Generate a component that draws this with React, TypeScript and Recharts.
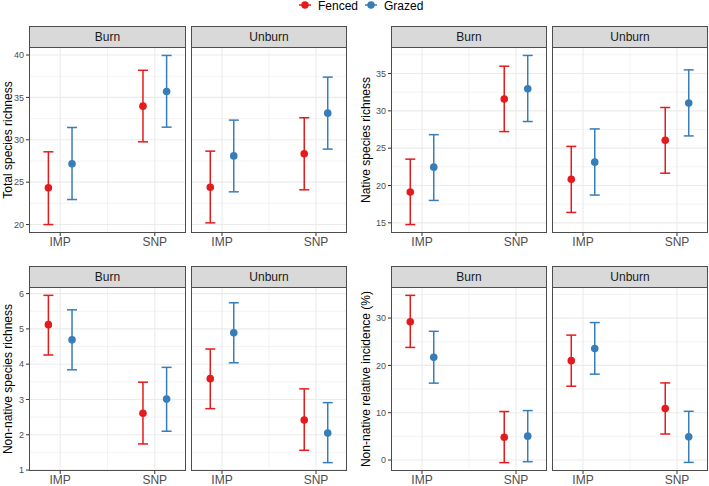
import { ScatterChart, Scatter, XAxis, YAxis, CartesianGrid, ErrorBar } from "recharts";

const sites = ["IMP", "SNP"];
const treatments = ["Fenced", "Grazed"];
const fires = ["Burn", "Unburn"];
const colors = ["#E41A1C", "#377EB8"];

// values are indexed [fire][treatment][site]
const totalMean = [
  [[24.33, 33.97], [27.17, 35.7]],
  [[24.4, 28.35], [28.1, 33.14]],
];
const totalLow = [
  [[20.0, 29.76], [22.95, 31.49]],
  [[20.2, 24.1], [23.86, 28.9]],
];
const totalHigh = [
  [[28.58, 38.2], [31.45, 39.95]],
  [[28.66, 32.6], [32.32, 37.39]],
];
const totalTicks = [20, 25, 30, 35, 40];

const nativeMean = [
  [[19.13, 31.58], [22.46, 32.97]],
  [[20.84, 26.06], [23.13, 31.04]],
];
const nativeLow = [
  [[14.77, 27.22], [18.0, 28.57]],
  [[16.39, 21.65], [18.72, 26.64]],
];
const nativeHigh = [
  [[23.53, 35.98], [26.81, 37.42]],
  [[25.24, 30.45], [27.58, 35.49]],
];
const nativeTicks = [15, 20, 25, 30, 35];

const nonNativeMean = [
  [[5.12, 2.61], [4.69, 3.01]],
  [[3.59, 2.42], [4.89, 2.05]],
];
const nonNativeLow = [
  [[4.26, 1.74], [3.84, 2.1]],
  [[2.74, 1.56], [4.04, 1.21]],
];
const nonNativeHigh = [
  [[5.95, 3.49], [5.54, 3.91]],
  [[4.43, 3.3], [5.74, 2.91]],
];
const nonNativeTicks = [1, 2, 3, 4, 5, 6];

const incidenceMean = [
  [[29.2, 4.8], [21.7, 5.05]],
  [[21.0, 10.9], [23.55, 4.9]],
];
const incidenceLow = [
  [[23.8, -0.55], [16.25, -0.35]],
  [[15.6, 5.5], [18.15, -0.5]],
];
const incidenceHigh = [
  [[34.8, 10.25], [27.2, 10.45]],
  [[26.4, 16.3], [29.05, 10.3]],
];
const incidenceTicks = [0, 10, 20, 30];

const metrics = [
  { title: "Total species richness", mean: totalMean, low: totalLow, high: totalHigh, ticks: totalTicks },
  { title: "Native species richness", mean: nativeMean, low: nativeLow, high: nativeHigh, ticks: nativeTicks },
  { title: "Non-native species richness", mean: nonNativeMean, low: nonNativeLow, high: nonNativeHigh, ticks: nonNativeTicks },
  { title: "Non-native relative incidence (%)", mean: incidenceMean, low: incidenceLow, high: incidenceHigh, ticks: incidenceTicks },
];

const font = "'Liberation Sans', Arial, sans-serif";
const dodge = 0.125;
const xDomain = [0.67, 2.33];

// layout
const rows = [
  { stripTop: 26, plotTop: 47, plotH: 186, axisH: 22 },
  { stripTop: 266, plotTop: 287, plotH: 184, axisH: 15 },
];
const cols = [
  { labelX: 8, facets: [{ left: 29, width: 157 }, { left: 191, width: 156 }] },
  { labelX: 366, facets: [{ left: 391, width: 156 }, { left: 552, width: 156 }] },
];

function expand(m: any) {
  const all = [...m.low.flat(2), ...m.high.flat(2)];
  const lo = Math.min(...all);
  const hi = Math.max(...all);
  const pad = (hi - lo) * 0.05;
  return [lo - pad, hi + pad];
}

function minorOf(ticks: number[], domain: number[]) {
  const step = ticks[1] - ticks[0];
  const out: number[] = [];
  for (let i = -1; i < ticks.length; i++) {
    const v = ticks[0] + step * i + step / 2;
    if (v > domain[0] && v < domain[1]) out.push(v);
  }
  return out;
}

function rowsFor(m: any, f: number, t: number) {
  return sites.map((s, i) => ({
    site: s,
    x: i + 1 + (t === 0 ? -dodge : dodge),
    y: m.mean[f][t][i],
    err: [m.mean[f][t][i] - m.low[f][t][i], m.high[f][t][i] - m.mean[f][t][i]],
  }));
}

function Facet({ m, f, left, width, row, showY }: any) {
  const yW = showY ? 34 : 0;
  const domain = expand(m);
  const minor = minorOf(m.ticks, domain);
  const stripH = row.plotTop - row.stripTop;
  return (
    <>
      <div
        style={{
          position: "absolute",
          left,
          top: row.stripTop,
          width,
          height: stripH + 1,
          boxSizing: "border-box",
          background: "#d9d9d9",
          border: "1px solid #4d4d4d",
          borderBottom: "1px solid #333",
          textAlign: "center",
          lineHeight: `${stripH}px`,
          fontSize: 12,
          color: "#1a1a1a",
        }}
      >
        {fires[f]}
      </div>
      <div style={{ position: "absolute", left: left - yW, top: row.plotTop }}>
        <ScatterChart width={width + yW} height={row.plotH + row.axisH} margin={{ top: 0, right: 0, bottom: 0, left: 0 }}>
          <CartesianGrid stroke="#ebebeb" strokeWidth={0.6} horizontalValues={minor} verticalValues={[1.5]} />
          <CartesianGrid stroke="#ebebeb" strokeWidth={1.1} horizontalValues={m.ticks} verticalValues={[1, 2]} />
          <XAxis
            type="number"
            dataKey="x"
            domain={xDomain}
            ticks={[1, 2]}
            tickFormatter={(v: number) => sites[v - 1]}
            height={row.axisH}
            axisLine={false}
            tickSize={3}
            tickMargin={1}
            tickLine={{ stroke: "#333" }}
            tick={{ fontSize: 12, fill: "#4d4d4d", fontFamily: font }}
            allowDataOverflow
          />
          <YAxis
            type="number"
            dataKey="y"
            domain={domain}
            ticks={m.ticks}
            hide={!showY}
            width={yW}
            axisLine={false}
            tickSize={3}
            tickMargin={2}
            tickLine={{ stroke: "#333" }}
            tick={{ fontSize: 9, fill: "#4d4d4d", fontFamily: font }}
            allowDataOverflow
          />
          {treatments.map((t, ti) => (
            <Scatter
              key={t}
              name={t}
              data={rowsFor(m, f, ti)}
              isAnimationActive={false}
              fill={colors[ti]}
              shape={(p: any) => <circle cx={p.cx} cy={p.cy} r={3.8} fill={colors[ti]} />}
            >
              <ErrorBar dataKey="err" direction="y" width={5} strokeWidth={1.5} stroke={colors[ti]} isAnimationActive={false} />
            </Scatter>
          ))}
        </ScatterChart>
      </div>
      <div
        style={{
          position: "absolute",
          left,
          top: row.plotTop,
          width,
          height: row.plotH,
          boxSizing: "border-box",
          border: "1px solid #4d4d4d",
          pointerEvents: "none",
        }}
      />
    </>
  );
}

function Legend() {
  return (
    <svg width={709} height={16} style={{ position: "absolute", left: 0, top: 0 }}>
      {treatments.map((t, i) => {
        const x0 = i === 0 ? 299 : 365;
        return (
          <g key={t}>
            <line x1={x0} x2={x0 + 12} y1={5} y2={5} stroke={colors[i]} strokeWidth={1.5} />
            <circle cx={x0 + 6} cy={5} r={3.7} fill={colors[i]} />
            <text x={x0 + 19} y={9.5} fontSize={12} fill="#000" fontFamily={font}>
              {t}
            </text>
          </g>
        );
      })}
    </svg>
  );
}

export default function App() {
  return (
    <div style={{ position: "absolute", left: 0, top: 0, width: 709, height: 486, background: "#fff", fontFamily: font, overflow: "hidden" }}>
      <Legend />
      {metrics.map((m, mi) => {
        const row = rows[Math.floor(mi / 2)];
        const col = cols[mi % 2];
        return (
          <div key={m.title}>
            <div
              style={{
                position: "absolute",
                left: col.labelX - row.plotH / 2,
                top: row.plotTop + row.plotH / 2 - 8,
                width: row.plotH,
                height: 16,
                lineHeight: "16px",
                textAlign: "center",
                fontSize: 12,
                color: "#000",
                transform: "rotate(-90deg)",
                whiteSpace: "nowrap",
              }}
            >
              {m.title}
            </div>
            {col.facets.map((fc, f) => (
              <Facet key={f} m={m} f={f} left={fc.left} width={fc.width} row={row} showY={f === 0} />
            ))}
          </div>
        );
      })}
    </div>
  );
}
